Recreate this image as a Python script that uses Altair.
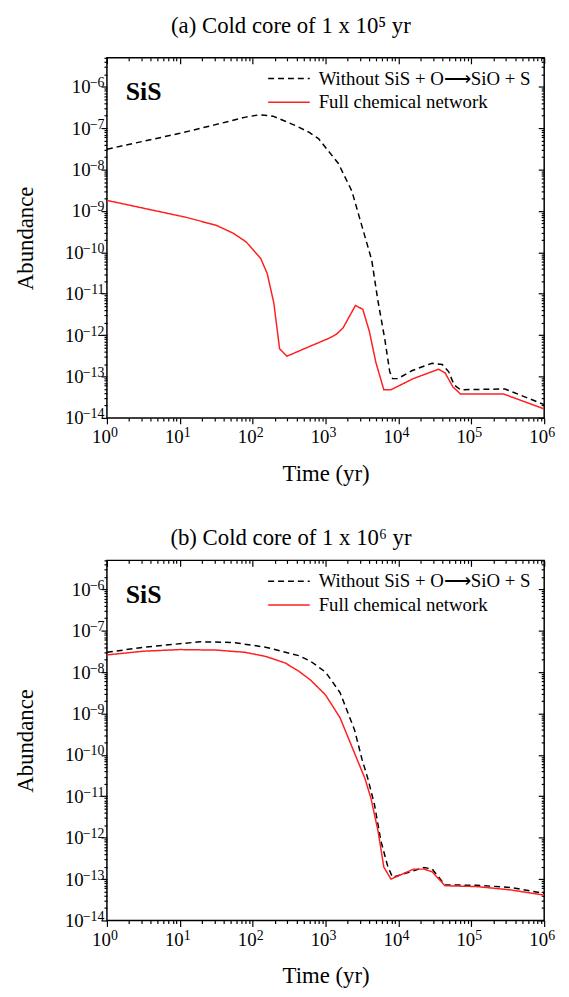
import altair as alt
import pandas as pd

# ---------------- data ----------------
SERIES = ["Without SiS + O\u27f6SiO + S", "Full chemical network"]

# Panel (a): cold core of 1e5 yr
A_T_DASH = [1, 10, 30, 50, 80, 123, 190, 390, 590, 800, 1500, 2300, 3100, 4300, 5200,
            6500, 7600, 8300, 9800, 15500, 29000, 40000, 49000, 58000, 71000,
            290000, 1000000]
A_V_DASH = [3.1e-8, 7.5e-8, 1.2e-7, 1.5e-7, 1.85e-7, 2.1e-7, 1.95e-7, 1.15e-7, 8.0e-8,
            5.6e-8, 1.4e-8, 3.0e-9, 4.8e-10, 6.5e-11, 7.2e-12, 8.0e-13, 1.3e-13,
            9.0e-14, 8.9e-14, 1.4e-13, 2.1e-13, 1.95e-13, 1.3e-13, 6.3e-14,
            4.8e-14, 5.0e-14, 2.1e-14]
A_T_FULL = [1, 12.3, 31.6, 54, 81, 129, 158, 195, 234, 295, 630, 1100, 1410, 1740,
            2570, 3240, 3980, 4900, 6300, 7900, 16000, 35500, 43600, 56000, 71000,
            275000, 1000000]
A_V_FULL = [1.8e-9, 7.0e-10, 4.5e-10, 2.9e-10, 1.8e-10, 7.1e-11, 3.1e-11, 6.0e-12,
            4.7e-13, 3.1e-13, 5.5e-13, 8.3e-13, 1.05e-12, 1.5e-12, 5.2e-12, 4.2e-12,
            1.26e-12, 2.2e-13, 4.8e-14, 4.8e-14, 8.9e-14, 1.5e-13, 1.23e-13, 5.6e-14,
            3.8e-14, 3.8e-14, 1.65e-14]

# Panel (b): cold core of 1e6 yr
B_T_DASH = [1, 3.2, 19, 54, 150, 430, 630, 1000, 1580, 2500, 3160, 3800, 4700, 5750,
            7100, 8300, 22400, 29000, 43600, 117000, 339000, 1000000]
B_V_DASH = [3.0e-8, 4.0e-8, 5.4e-8, 5.2e-8, 4.0e-8, 2.5e-8, 1.8e-8, 1.0e-8, 3.2e-9,
            4.0e-10, 7.9e-11, 2.7e-11, 6.2e-12, 8.3e-13, 2.1e-13, 1.1e-13, 1.9e-13,
            1.75e-13, 7.2e-14, 7.1e-14, 6.3e-14, 4.5e-14]
B_T_FULL = [1, 3.2, 10, 32, 79, 150, 280, 430, 630, 1000, 1580, 2500, 3470, 4200,
            5250, 6300, 7900, 16200, 22400, 29000, 43600, 117000, 339000, 1000000]
B_V_FULL = [2.6e-8, 3.2e-8, 3.5e-8, 3.4e-8, 3.0e-8, 2.4e-8, 1.66e-8, 1.05e-8, 6.3e-9,
            2.8e-9, 7.9e-10, 1.1e-10, 2.7e-11, 8.9e-12, 1.45e-12, 1.95e-13, 1.0e-13,
            1.74e-13, 1.74e-13, 1.5e-13, 6.9e-14, 6.6e-14, 5.5e-14, 4.1e-14]

TITLES = ["(a) Cold core of 1 x 10\u2075 yr", "(b) Cold core of 1 x 10\u2076 yr"]

X_MAJOR = [1, 10, 100, 1000, 10000, 100000, 1000000]
X_MINOR = [k * 10 ** d for d in range(0, 6) for k in range(2, 10)]
Y_MAJOR = [float(f"1e{d}") for d in range(-14, -5)]
Y_MINOR = [float(f"{k}e{d}") for d in range(-14, -6) for k in range(2, 10)] + \
          [float(f"{k}e-6") for k in range(2, 6)]

# ---------------- styling ----------------
W, H = 442, 364
SERIF = "Liberation Serif"
RED = "#ff1f1f"

EXP_EXPR = "format(round(log(datum.value)/LN10), 'd')"


def axis(values, size, orient, offset=0, labels=False, expr=None, title=None,
         title_pad=10, label_pad=4, label_size=19, label_offset=0, ticks=True):
    kw = dict(values=values, tickSize=size, orient=orient, labels=labels,
              domain=False, grid=False, ticks=ticks, tickColor="black",
              tickWidth=1.2, offset=offset, title=title)
    if labels:
        kw.update(labelExpr=expr, labelFont=SERIF, labelFontSize=label_size,
                  labelColor="black", labelPadding=label_pad, labelFlush=False,
                  labelOverlap=False, labelOffset=label_offset)
    if title:
        kw.update(titleFont=SERIF, titleFontSize=23, titleFontWeight="normal",
                  titleColor="black", titlePadding=title_pad)
    return alt.Axis(**kw)


def panel(t_dash, v_dash, t_full, v_full, title, title_offset):
    df = pd.DataFrame({
        "t": list(t_dash) + list(t_full),
        "A": list(v_dash) + list(v_full),
        "series": [SERIES[0]] * len(t_dash) + [SERIES[1]] * len(t_full),
    })
    xs = alt.Scale(type="log", domain=[1, 1e6], nice=False)
    ys = alt.Scale(type="log", domain=[1e-14, 5e-6], nice=False)

    # "10" part of the tick labels (mantissa), exponent drawn by a second axis
    x_base = axis(X_MAJOR, 0, "bottom", labels=True, expr="'10'", title="Time (yr)",
                  title_pad=16, label_pad=10, label_offset=-6, ticks=False)
    y_base = axis(Y_MAJOR, 0, "left", labels=True, expr="'10'", title="Abundance",
                  title_pad=27, ticks=False,
                  label_pad={"condition": {"test": "datum.value < 5e-10", "value": 24},
                             "value": 17})
    x_exp = axis(X_MAJOR, 0, "bottom", labels=True, expr=EXP_EXPR, label_pad=8,
                 label_size=14, label_offset=7, ticks=False)
    y_exp = axis(Y_MAJOR, 0, "left", labels=True, expr=EXP_EXPR, label_pad=3,
                 label_size=14, label_offset=-4, ticks=False)

    lines = alt.Chart(df).mark_line(strokeWidth=1.5, clip=True).encode(
        x=alt.X("t:Q", scale=xs, axis=x_base),
        y=alt.Y("A:Q", scale=ys, axis=y_base),
        color=alt.Color("series:N", scale=alt.Scale(domain=SERIES, range=["black", RED]),
                        legend=None),
        strokeDash=alt.StrokeDash("series:N",
                                  scale=alt.Scale(domain=SERIES, range=[[6, 4], [1, 0]]),
                                  legend=None),
        detail="series:N",
    )

    def ghost(xa, ya):
        return alt.Chart(df).mark_line(opacity=0).encode(
            x=alt.X("t:Q", scale=xs, axis=xa),
            y=alt.Y("A:Q", scale=ys, axis=ya),
        )

    exps = ghost(x_exp, y_exp)
    major_bl = ghost(axis(X_MAJOR, 6, "bottom"), axis(Y_MAJOR, 6, "left"))
    minor_bl = ghost(axis(X_MINOR, 3, "bottom"), axis(Y_MINOR, 3, "left"))
    major_tr = ghost(axis(X_MAJOR, 6, "bottom", offset=-H), axis(Y_MAJOR, 6, "left", offset=-W))
    minor_tr = ghost(axis(X_MINOR, 3, "bottom", offset=-H), axis(Y_MINOR, 3, "left", offset=-W))

    one = pd.DataFrame({"k": [0]})
    leg_dash = alt.Chart(one).mark_rule(color="black", strokeWidth=1.5, strokeDash=[6, 4]).encode(
        x=alt.value(163), x2=alt.value(205), y=alt.value(21))
    leg_full = alt.Chart(one).mark_rule(color=RED, strokeWidth=1.5).encode(
        x=alt.value(163), x2=alt.value(205), y=alt.value(45))
    txt_dash = alt.Chart(one).mark_text(text=SERIES[0], font=SERIF, fontSize=19, align="left",
                                        baseline="middle", color="black").encode(
        x=alt.value(214), y=alt.value(21))
    txt_full = alt.Chart(one).mark_text(text=SERIES[1], font=SERIF, fontSize=19, align="left",
                                        baseline="middle", color="black").encode(
        x=alt.value(214), y=alt.value(45))
    sis = alt.Chart(one).mark_text(text="SiS", font=SERIF, fontSize=26, fontWeight="bold",
                                   align="left", baseline="alphabetic", color="black").encode(
        x=alt.value(19), y=alt.value(43))

    return alt.layer(lines, exps, major_bl, minor_bl, major_tr, minor_tr, leg_dash,
                     leg_full, txt_dash, txt_full, sis).resolve_axis(
        x="independent", y="independent").properties(
        width=W, height=H,
        title=alt.TitleParams(title, font=SERIF, fontSize=23, fontWeight="normal",
                              color="black", offset=title_offset, dx=-35, anchor="middle"),
    )


chart = alt.vconcat(
    panel(A_T_DASH, A_V_DASH, A_T_FULL, A_V_FULL, TITLES[0], 20),
    panel(B_T_DASH, B_V_DASH, B_T_FULL, B_V_FULL, TITLES[1], 10),
    spacing=40,
).properties(
    padding={"left": 6, "top": 0, "right": 5, "bottom": 5},
    background="white",
).configure_view(stroke="black", strokeWidth=1.5)

chart.save("out.html", embed_options={"renderer": "svg", "actions": False})
